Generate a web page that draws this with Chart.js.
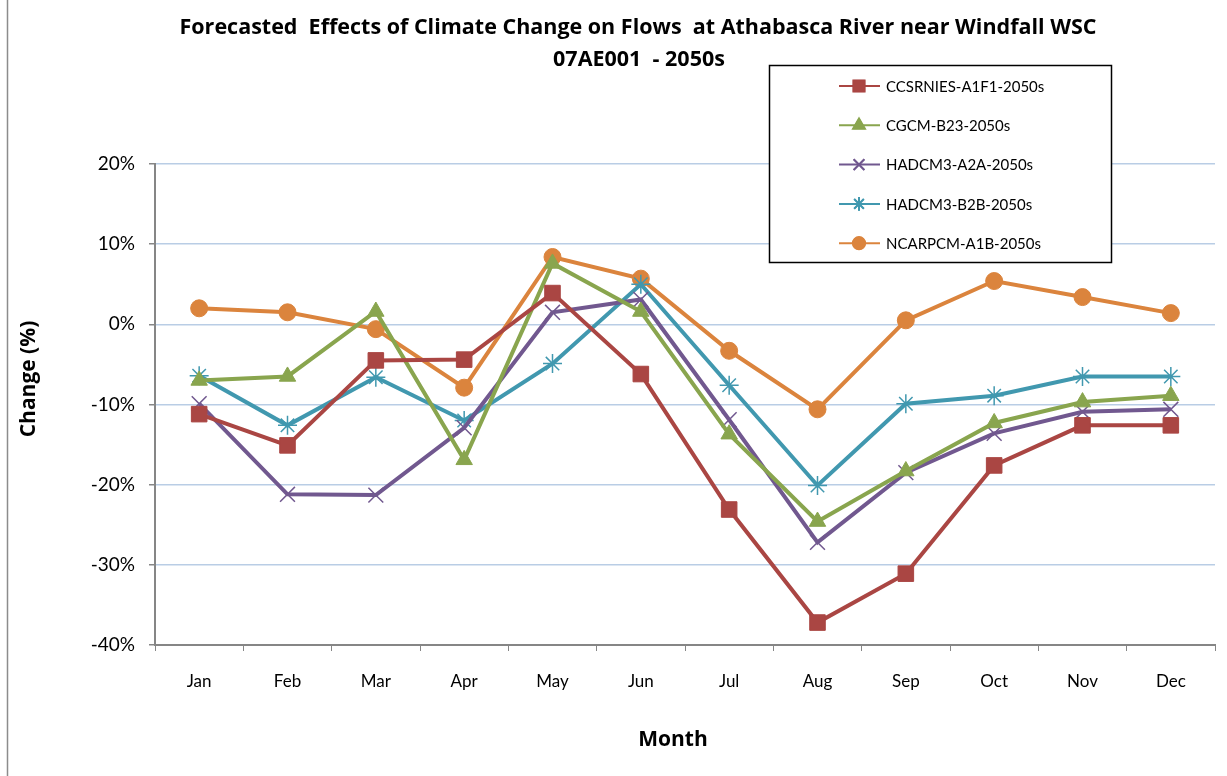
<!DOCTYPE html>
<html>
<head>
<meta charset="utf-8">
<script src="https://cdn.jsdelivr.net/npm/chart.js@4.4.0/dist/chart.umd.min.js"></script>
<style>
  body { margin: 0; background: #fff; }
  canvas { display: block; }
</style>
</head>
<body>
<canvas id="chart" width="1227" height="776"></canvas>
<script>
// months on the x axis
const months = ["Jan", "Feb", "Mar", "Apr", "May", "Jun", "Jul", "Aug", "Sep", "Oct", "Nov", "Dec"];

// % change in flow
const ccsrnies = [-11.2, -15.1, -4.5, -4.4, 3.9, -6.2, -23.1, -37.2, -31.1, -17.6, -12.6, -12.6];
const cgcm = [-7.0, -6.5, 1.6, -16.9, 7.6, 1.6, -13.7, -24.6, -18.3, -12.3, -9.7, -8.9];
const hadA2A = [-9.9, -21.2, -21.3, -12.9, 1.5, 3.1, -11.9, -27.2, -18.5, -13.6, -10.9, -10.6];
const hadB2B = [-6.4, -12.6, -6.6, -12.0, -4.9, 5.0, -7.6, -20.1, -9.9, -8.9, -6.5, -6.5];
const ncarpcm = [2.0, 1.5, -0.6, -7.9, 8.4, 5.7, -3.3, -10.6, 0.5, 5.4, 3.4, 1.4];

const yTicks = [20, 10, 0, -10, -20, -30, -40];

const FONT = "Lato, 'Open Sans', sans-serif";
const BOLD = "'Open Sans', Lato, sans-serif";

function series(label, data, color, style, radius, bw) {
  return {
    label: label,
    data: data,
    borderColor: color,
    backgroundColor: color,
    pointBackgroundColor: color,
    pointBorderColor: color,
    pointStyle: style,
    pointRadius: radius,
    pointHoverRadius: radius,
    pointBorderWidth: bw,
    borderWidth: 4,
    tension: 0
  };
}

const datasets = [
  series("CCSRNIES-A1F1-2050s", ccsrnies, "#AA4643", "rect", 11, 1),
  series("CGCM-B23-2050s", cgcm, "#89A54E", "triangle", 9.5, 1),
  series("HADCM3-A2A-2050s", hadA2A, "#71588F", "crossRot", 10.5, 1.5),
  series("HADCM3-B2B-2050s", hadB2B, "#4198AF", "star", 9.5, 1.5),
  series("NCARPCM-A1B-2050s", ncarpcm, "#DB843D", "circle", 8.5, 1)
];

// titles, frame and the boxed legend
const decor = {
  id: "decor",
  afterDraw(chart) {
    const ctx = chart.ctx;
    ctx.save();

    ctx.strokeStyle = "#8c8c8c";
    ctx.lineWidth = 1.5;
    ctx.beginPath();
    ctx.moveTo(7.5, 0);
    ctx.lineTo(7.5, 776);
    ctx.stroke();

    ctx.fillStyle = "#000";
    ctx.textAlign = "center";
    ctx.textBaseline = "middle";
    ctx.font = "bold 21.5px " + BOLD;
    ctx.fillText("Forecasted  Effects of Climate Change on Flows  at Athabasca River near Windfall WSC", 638, 28);
    ctx.fillText("07AE001  - 2050s", 639, 60);

    ctx.font = "bold 21px " + BOLD;
    ctx.fillText("Month", 673, 740);

    ctx.save();
    ctx.translate(29, 379);
    ctx.rotate(-Math.PI / 2);
    ctx.fillText("Change (%)", 0, 0);
    ctx.restore();

    // legend box
    ctx.fillStyle = "#fff";
    ctx.fillRect(769, 65, 343, 198);
    ctx.strokeStyle = "#000";
    ctx.lineWidth = 1.5;
    ctx.strokeRect(769.5, 65.5, 342, 197);

    ctx.font = "15px " + FONT;
    ctx.textAlign = "left";
    chart.data.datasets.forEach((ds, i) => {
      const y = 86 + i * 39.3;
      ctx.strokeStyle = ds.borderColor;
      ctx.lineWidth = 2;
      ctx.beginPath();
      ctx.moveTo(839, y);
      ctx.lineTo(880, y);
      ctx.stroke();
      Chart.helpers.drawPoint(ctx, {
        pointStyle: ds.pointStyle,
        radius: ds.pointRadius * 0.72,
        rotation: 0,
        borderWidth: ds.pointBorderWidth
      }, 859, y);
      ctx.fillStyle = ds.borderColor;
      ctx.strokeStyle = ds.borderColor;
      ctx.lineWidth = ds.pointBorderWidth;
      ctx.fill();
      ctx.stroke();
      ctx.fillStyle = "#000";
      ctx.fillText(ds.label, 886, y + 1);
    });

    ctx.restore();
  }
};

new Chart(document.getElementById("chart"), {
  type: "line",
  data: { labels: months, datasets: datasets },
  options: {
    responsive: false,
    animation: false,
    layout: { padding: { top: 164, right: 10, bottom: 0, left: 0 } },
    plugins: {
      legend: { display: false },
      title: { display: false },
      tooltip: { enabled: false }
    },
    scales: {
      x: {
        offset: true,
        grid: {
          offset: true,
          drawOnChartArea: false,
          tickLength: 6,
          tickColor: "#868686"
        },
        border: { color: "#868686", width: 2 },
        ticks: { color: "#000", padding: 20, font: { family: FONT, size: 17 } },
        afterFit(scale) { scale.height = 131; }
      },
      y: {
        min: -40,
        max: 20,
        afterBuildTicks(scale) { scale.ticks = yTicks.map(v => ({ value: v })); },
        grid: {
          color: "#b9cde5",
          lineWidth: 1.5,
          tickLength: 6,
          tickColor: "#868686"
        },
        border: { color: "#868686", width: 2 },
        ticks: {
          color: "#000",
          padding: 14,
          font: { family: FONT, size: 19 },
          callback: v => v + "%"
        },
        afterFit(scale) { scale.width = 155; }
      }
    }
  },
  plugins: [decor]
});
</script>
</body>
</html>
